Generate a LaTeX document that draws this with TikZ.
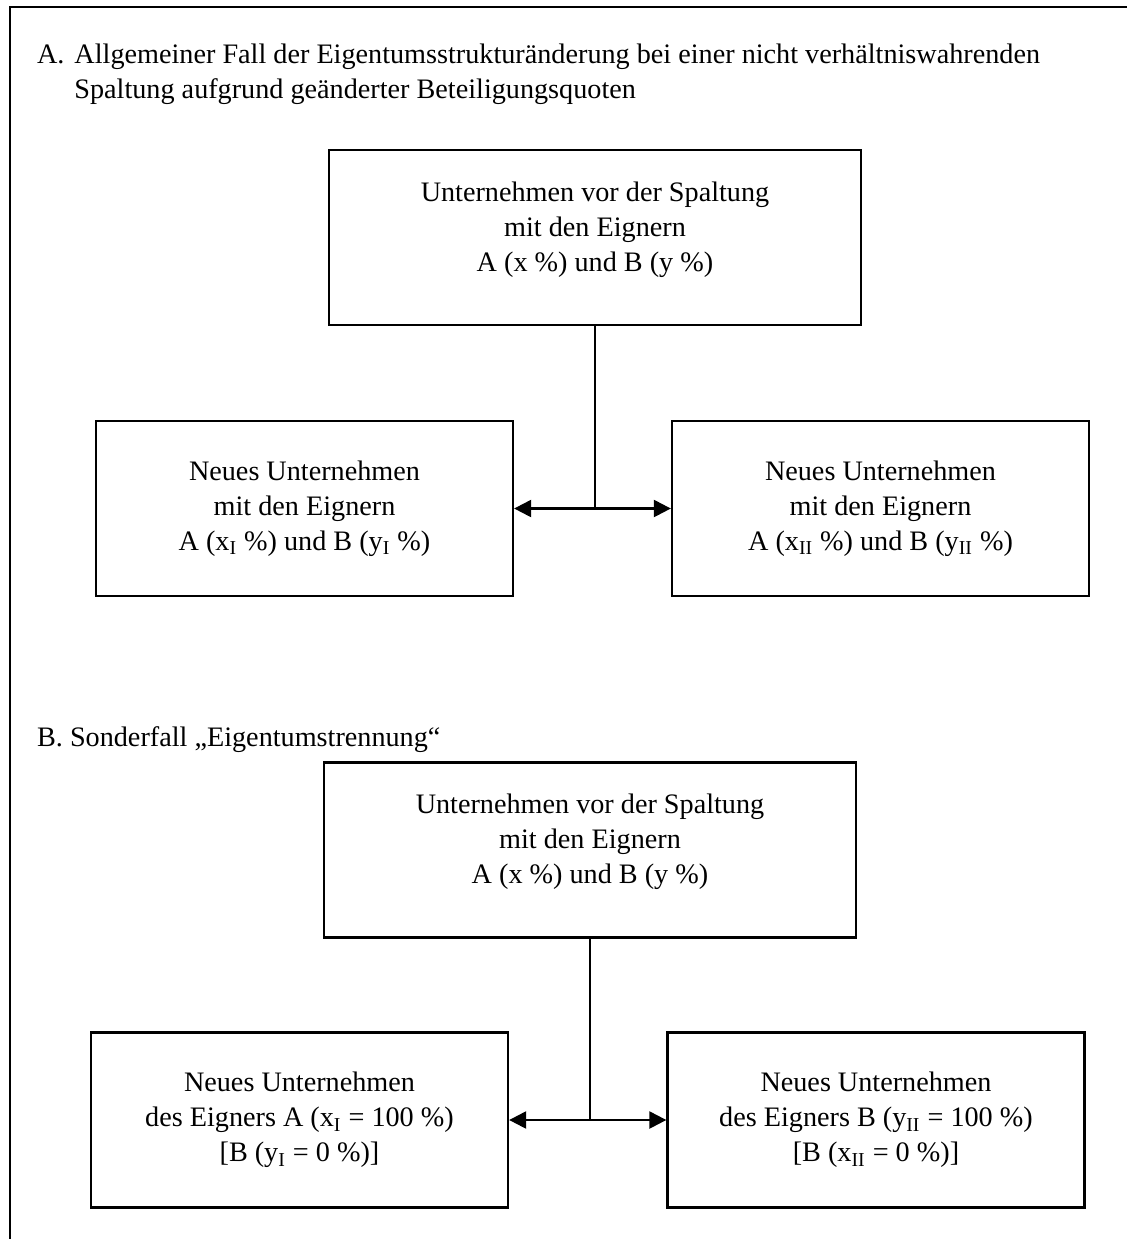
\documentclass[tikz,border=0pt]{standalone}
\usepackage{fontspec}
\setmainfont{Liberation Serif}
\usetikzlibrary{arrows.meta}
\begin{document}
\begin{tikzpicture}[x=0.5pt,y=-0.5pt,
  font=\fontsize{14.1pt}{17.5pt}\selectfont,
  box/.style={draw, line width=1.15pt, align=center, inner sep=0pt, minimum height=87.5pt},
  wide/.style={box, minimum width=266pt},
  narrow/.style={box, minimum width=208.5pt},
  boxtext/.style={align=center, inner sep=0pt},
  conn/.style={line width=1.15pt},
  arr/.style={conn, -{Triangle[length=8.5pt,width=8.5pt]}},
  head/.style={anchor=base west, inner sep=0pt},
  frame/.style={line width=1.45pt}]
\useasboundingbox (0,0) rectangle (1127,1239);
% outer frame (clipped at right and bottom)
\coordinate (fbl) at (10,1250);
\coordinate (ftl) at (10,7);
\coordinate (ftr) at (1140,7);
\draw[frame] (fbl) -- (ftl) -- (ftr);
% headings
\node[head] (hA1) at (36.7,63.5) {\makebox[18.7pt][l]{A.}Allgemeiner Fall der Eigentumsstrukturänderung bei einer nicht verhältniswahrenden};
\node[head] (hA2) at (74,98) {Spaltung aufgrund geänderter Beteiligungsquoten};
\node[head] (hB) at (36.7,746) {B. Sonderfall „Eigentumstrennung“};
% part A
\node[wide] (tA) at (595,237.5) {};
\node[boxtext] (tAt) at ([yshift=4pt]tA.center) {Unternehmen vor der Spaltung\\mit den Eignern\\A (x~\%) und B (y~\%)};
\node[narrow] (lA) at (304.5,508.5) {Neues Unternehmen\\mit den Eignern\\A (x\textsubscript{I}~\%) und B (y\textsubscript{I}~\%)};
\node[narrow] (rA) at (880.5,508.5) {Neues Unternehmen\\mit den Eignern\\A (x\textsubscript{II}~\%) und B (y\textsubscript{II}~\%)};
\coordinate (jA) at (tA.south |- lA.east);
\draw[conn] (tA.south) -- (jA);
\draw[arr] (jA) -- (lA.east);
\draw[arr] (jA) -- (rA.west);
% part B
\node[wide] (tB) at (590,850) {};
\node[boxtext] (tBt) at ([yshift=4pt]tB.center) {Unternehmen vor der Spaltung\\mit den Eignern\\A (x~\%) und B (y~\%)};
\node[narrow] (lB) at (299.5,1120) {Neues Unternehmen\\des Eigners A (x\textsubscript{I} = 100~\%)\\{}[B (y\textsubscript{I} = 0~\%)]};
\node[narrow] (rB) at (876,1120) {Neues Unternehmen\\des Eigners B (y\textsubscript{II} = 100~\%)\\{}[B (x\textsubscript{II} = 0~\%)]};
\coordinate (jB) at (tB.south |- lB.east);
\draw[conn] (tB.south) -- (jB);
\draw[arr] (jB) -- (lB.east);
\draw[arr] (jB) -- (rB.west);
\end{tikzpicture}
\end{document}
